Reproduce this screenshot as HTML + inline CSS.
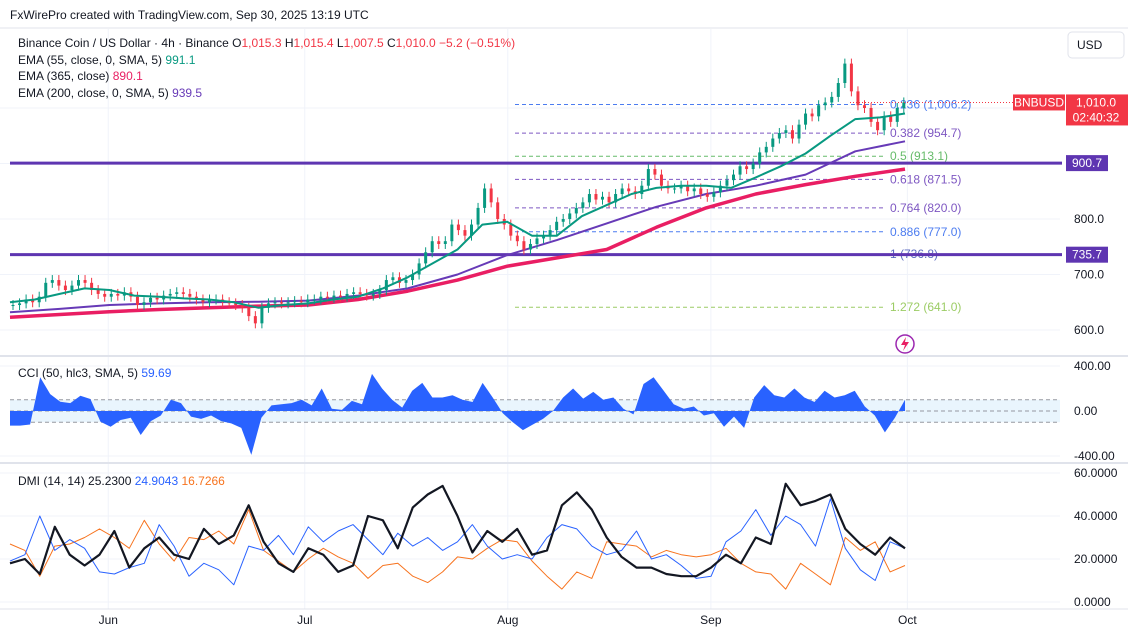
<!DOCTYPE html>
<html><head><meta charset="utf-8"><style>
html,body{margin:0;padding:0;background:#fff;}
svg{display:block;font-family:"Liberation Sans",sans-serif;}
</style></head><body>
<svg id="c" width="1128" height="633" viewBox="0 0 1128 633" xmlns="http://www.w3.org/2000/svg">
<rect x="0" y="0" width="1128" height="633" fill="#fff"/>
<text x="10" y="19" font-size="12" fill="#131722">FxWirePro created with TradingView.com, Sep 30, 2025 13:19 UTC</text>
<line x1="0" y1="28" x2="1128" y2="28" stroke="#e0e3eb"/>
<g id="grid"></g>
<g id="main"></g>
<g id="cci"></g>
<g id="dmi"></g>
<g id="axes"></g>
<line x1="0" y1="356" x2="1128" y2="356" stroke="#e0e3eb" stroke-width="2"/>
<line x1="0" y1="463" x2="1128" y2="463" stroke="#e0e3eb" stroke-width="2"/>
<line x1="0" y1="609" x2="1128" y2="609" stroke="#e0e3eb"/>
<g><rect x="1068" y="32" width="56" height="26" rx="4" fill="#fff" stroke="#e0e3eb"/><text x="1077" y="49" font-size="12" fill="#131722">USD</text></g>
<g font-size="12">
<text x="18" y="47" fill="#131722">Binance Coin / US Dollar · 4h · Binance  <tspan fill="#131722">O</tspan><tspan fill="#f23645">1,015.3</tspan>  <tspan fill="#131722">H</tspan><tspan fill="#f23645">1,015.4</tspan>  <tspan fill="#131722">L</tspan><tspan fill="#f23645">1,007.5</tspan>  <tspan fill="#131722">C</tspan><tspan fill="#f23645">1,010.0  −5.2 (−0.51%)</tspan></text>
<text x="18" y="64" fill="#131722">EMA (55, close, 0, SMA, 5)  <tspan fill="#089981">991.1</tspan></text>
<text x="18" y="80" fill="#131722">EMA (365, close)  <tspan fill="#e91e63">890.1</tspan></text>
<text x="18" y="97" fill="#131722">EMA (200, close, 0, SMA, 5)  <tspan fill="#673ab7">939.5</tspan></text>
</g>
<text x="18" y="377" font-size="12" fill="#131722">CCI (50, hlc3, SMA, 5)  <tspan fill="#2962ff">59.69</tspan></text>
<text x="18" y="485" font-size="12" fill="#131722">DMI (14, 14)  25.2300  <tspan fill="#2962ff">24.9043</tspan>  <tspan fill="#f7731e">16.7266</tspan></text>
<g><circle cx="905" cy="344" r="9" fill="none" stroke="#9c27b0" stroke-width="1.5"/><path d="M906 337 L901 345 L905 345 L903 351 L909 342 L905 342 Z" fill="#e91e63"/></g>
</svg>
<script>
// ---- data ----
const priceCloses=[645,648,655,650,660,685,690,680,672,680,690,685,672,665,660,665,662,668,660,645,650,658,655,662,665,668,665,660,655,650,655,655,650,648,645,640,625,612,640,648,650,648,650,652,650,655,655,660,658,662,660,665,668,665,662,665,672,690,695,685,690,700,720,740,760,755,760,790,780,770,790,820,855,830,800,790,770,760,745,755,765,770,780,795,800,810,820,830,845,835,840,830,845,855,850,845,860,890,880,860,855,855,860,850,855,845,840,848,860,870,880,895,890,900,920,930,945,955,960,945,970,990,985,1005,1010,1020,1045,1080,1030,1005,1000,975,960,985,975,1000,1010];
const ema55=[650,655,665,675,672,662,660,657,655,650,640,645,648,655,660,675,695,720,745,790,795,770,770,805,825,845,856,860,860,856,875,895,918,950,980,983,990];
const ema200=[632,638,645,648,650,651,653,662,675,700,735,762,792,822,845,860,880,922,940];
const ema365=[623,628,633,637,640,643,645,655,670,690,715,730,745,785,820,845,862,877,890];
const fibRatios=["0.236","0.382","0.5","0.618","0.764","0.886","1","1.272"];
const fibPrices=[1006.2,954.7,913.1,871.5,820.0,777.0,736.8,641.0];
const hLevels=[900.7,735.7];
const priceTicks=[800,700,600];
const cciValues=[-130,-130,-120,300,150,83,70,136,107,-95,-140,-80,-60,-213,-90,-40,100,70,-50,-70,-40,-90,-110,-150,-390,-60,50,60,70,100,50,200,20,10,90,60,330,200,100,30,180,250,120,120,140,100,80,250,120,-20,-100,-170,-120,-70,0,120,200,110,170,100,120,20,-30,240,300,180,60,20,40,-40,-20,-140,-50,-150,120,230,140,120,200,120,80,180,120,140,180,40,-40,-190,-60,100];
const cciTicks=[400,0,-400];
const adx=[18,20,13,35,22,17,22,33,16,25,30,22,20,34,27,31,45,28,18,14,25,22,14,17,40,38,25,44,50,54,40,23,33,28,34,22,24,45,51,43,30,21,16,16,13,12,12,16,22,18,30,27,55,45,47,50,34,27,22,30,25];
const diPlus=[19,22,40,24,29,25,14,13,16,18,36,26,12,18,15,8,26,24,31,22,35,28,33,36,29,22,32,26,30,24,28,36,26,20,22,20,30,36,34,26,22,24,33,20,22,17,11,12,28,33,43,31,40,36,26,48,25,15,10,28,25];
const diMinus=[27,24,12,26,27,30,34,30,25,38,27,19,30,29,33,27,43,24,19,14,20,25,21,18,11,17,18,12,9,14,21,20,25,29,28,19,12,6,14,11,28,27,26,21,24,22,21,22,25,18,14,13,6,18,13,8,30,24,28,14,17];
const dmiTicks=[60,40,20,0];
const monthLabels=["Jun","Jul","Aug","Sep","Oct"];
const monthDay=[15,45,76,107,137]; // days since May 17

// ---- scales ----
const X0=10,X1=905,DAY=6.55;
const xDay=d=>X0+d*DAY;
const xIdx=(i,n)=>X0+i*(X1-X0)/(n-1);
const yP=p=>219-(p-800)*0.555;
const yC=v=>411-v*0.1125;
const yD=v=>602-v*2.15;
const NS="http://www.w3.org/2000/svg";
function mk(tag,attrs,parent){const e=document.createElementNS(NS,tag);for(const k in attrs)e.setAttribute(k,attrs[k]);parent.appendChild(e);return e;}
const grid=document.getElementById('grid'),main=document.getElementById('main'),cci=document.getElementById('cci'),dmi=document.getElementById('dmi'),axes=document.getElementById('axes');

// grid
monthDay.forEach((d,i)=>{const g=mk('line',{x1:xDay(d),x2:xDay(d),y1:29,y2:609,stroke:'#f0f3fa'},grid);


const t=mk('text',{x:xDay(d),y:624,'font-size':12,'text-anchor':'middle',fill:'#131722'},axes);t.textContent=monthLabels[i];

});
[1000,900,800,700,600].forEach(p=>mk('line',{x1:0,x2:1060,y1:yP(p),y2:yP(p),stroke:'#f0f3fa'},grid));
dmiTicks.forEach(v=>mk('line',{x1:0,x2:1060,y1:yD(v),y2:yD(v),stroke:'#f0f3fa'},grid));
[400,-400].forEach(v=>mk('line',{x1:0,x2:1060,y1:yC(v),y2:yC(v),stroke:'#f0f3fa'},grid));

// fib lines
const fibColors=['#4c7cf0','#7e57c2','#66bb6a','#7e57c2','#7e57c2','#4c7cf0','#5c6bc0','#9ccc65'];
fibPrices.forEach((p,i)=>{const l=mk('line',{x1:515,x2:885,y1:yP(p),y2:yP(p),stroke:fibColors[i],'stroke-dasharray':'4 3','stroke-width':1},main);


const t=mk('text',{x:890,y:yP(p)+4,'font-size':12,fill:fibColors[i]},main);t.textContent=fibRatios[i]+' ('+p.toLocaleString('en-US',{minimumFractionDigits:1,maximumFractionDigits:1})+')';

});

// horizontal levels
hLevels.forEach(p=>{const l=mk('line',{x1:10,x2:1062,y1:yP(p),y2:yP(p),stroke:'#5e35b1','stroke-width':3},main);


mk('rect',{x:1066,y:yP(p)-8,width:42,height:16,fill:'#5e35b1'},axes);
const t=mk('text',{x:1087,y:yP(p)+4,'font-size':12,'text-anchor':'middle',fill:'#fff'},axes);t.textContent=p.toFixed(1);

});

// EMA lines
function line(vals,yf,color,w,parent,name){let d='';vals.forEach((v,i)=>{d+=(i?'L':'M')+xIdx(i,vals.length).toFixed(1)+' '+yf(v).toFixed(1);});
const p=mk('path',{d:d,fill:'none',stroke:color,'stroke-width':w,'stroke-linejoin':'round'},parent);

return p;}
line(ema365,yP,'#e91e63',3.5,main,'ema-365-line');
line(ema200,yP,'#673ab7',2,main,'ema-200-line');

// candles
priceCloses.forEach((c,i)=>{const o=i?priceCloses[i-1]:c;const x=xDay(i)+3;const up=c>=o;
const y1=yP(Math.max(o,c)),y2=yP(Math.min(o,c));
const col=up?'#089981':'#f23645';
mk('line',{x1:x,x2:x,y1:y1-5,y2:y2+5,stroke:col,'stroke-width':1},main);
const r=mk('rect',{x:x-1.5,y:y1,width:3,height:Math.max(1,y2-y1),fill:col},main);

});
line(ema55,yP,'#089981',2,main,'ema-55-line');

// last price
const last=priceCloses[priceCloses.length-1];
mk('line',{x1:850,x2:1013,y1:yP(last),y2:yP(last),stroke:'#f23645','stroke-dasharray':'1 2'},main);
mk('rect',{x:1013,y:yP(last)-8,width:52,height:16,fill:'#f23645'},axes);
const sym=mk('text',{x:1039,y:yP(last)+4,'font-size':12,'text-anchor':'middle',fill:'#fff'},axes);sym.textContent='BNBUSD';


mk('rect',{x:1066,y:yP(last)-8,width:62,height:31,fill:'#f23645'},axes);
const lp=mk('text',{x:1096,y:yP(last)+4,'font-size':12,'text-anchor':'middle',fill:'#fff'},axes);lp.textContent=last.toLocaleString('en-US',{minimumFractionDigits:1});


const cd=mk('text',{x:1096,y:yP(last)+19,'font-size':12,'text-anchor':'middle',fill:'#fff'},axes);cd.textContent='02:40:32';


priceTicks.forEach(p=>{const t=mk('text',{x:1074,y:yP(p)+4,'font-size':12,fill:'#131722'},axes);t.textContent=p.toFixed(1);

});

// CCI
mk('rect',{x:10,y:yC(100),width:1050,height:yC(-100)-yC(100),fill:'#e3f2fd',opacity:0.8},cci);
[100,0,-100].forEach(v=>mk('line',{x1:10,x2:1060,y1:yC(v),y2:yC(v),stroke:'#9598a1','stroke-dasharray':'4 3'},cci));
let cd2='M'+X0+' '+yC(0);cciValues.forEach((v,i)=>{cd2+='L'+xIdx(i,cciValues.length).toFixed(1)+' '+yC(v).toFixed(1);});cd2+='L'+X1+' '+yC(0)+'Z';
const ca=mk('path',{d:cd2,fill:'#2962ff'},cci);


cciTicks.forEach(v=>{const t=mk('text',{x:1074,y:yC(v)+4,'font-size':12,fill:'#131722'},axes);t.textContent=v.toFixed(2);

});

// DMI
line(diMinus,yD,'#f7731e',1,dmi,'di-minus-line');
line(diPlus,yD,'#2962ff',1,dmi,'di-plus-line');
line(adx,yD,'#131722',2.2,dmi,'adx-line');
dmiTicks.forEach(v=>{const t=mk('text',{x:1074,y:yD(v)+4,'font-size':12,fill:'#131722'},axes);t.textContent=v.toFixed(4);

});
</script>
</body></html>
